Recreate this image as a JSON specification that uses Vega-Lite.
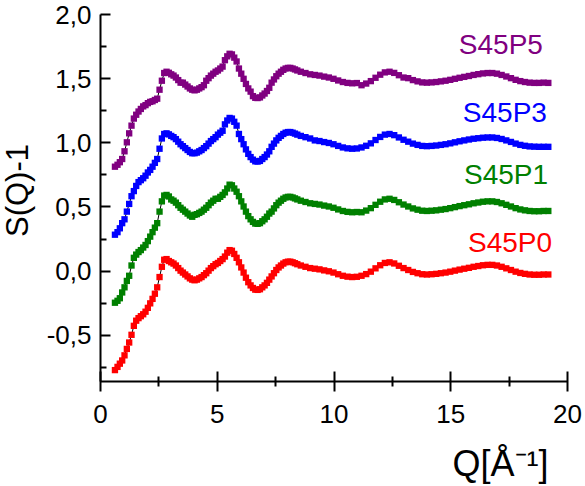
{
  "$schema": "https://vega.github.io/schema/vega-lite/v6.json",
  "width": 467,
  "height": 367,
  "autosize": {"type": "none"},
  "padding": {"left": 100, "top": 14, "right": 18, "bottom": 105},
  "background": "white",
  "config": {
    "view": {"stroke": null},
    "font": "Liberation Sans",
    "axis": {"grid": false, "domainColor": "#000", "tickColor": "#000", "labelColor": "#000", "titleColor": "#000", "titleFontWeight": "normal", "domainWidth": 2, "tickWidth": 2, "labelFont": "Liberation Sans", "titleFont": "Liberation Sans"}
  },
  "datasets": {
    "sq": [
      {"q":0.64,"S45P0":-0.775,"S45P1":-0.25,"S45P3":0.28,"S45P5":0.81},
      {"q":0.75,"S45P0":-0.75,"S45P1":-0.235,"S45P3":0.30,"S45P5":0.825},
      {"q":0.85,"S45P0":-0.725,"S45P1":-0.215,"S45P3":0.33,"S45P5":0.845},
      {"q":0.95,"S45P0":-0.70,"S45P1":-0.17,"S45P3":0.37,"S45P5":0.87},
      {"q":1.05,"S45P0":-0.66,"S45P1":-0.13,"S45P3":0.40,"S45P5":0.93},
      {"q":1.15,"S45P0":-0.61,"S45P1":-0.08,"S45P3":0.46,"S45P5":1.00},
      {"q":1.25,"S45P0":-0.56,"S45P1":-0.04,"S45P3":0.52,"S45P5":1.07},
      {"q":1.35,"S45P0":-0.50,"S45P1":0.04,"S45P3":0.58,"S45P5":1.13},
      {"q":1.45,"S45P0":-0.43,"S45P1":0.10,"S45P3":0.62,"S45P5":1.185},
      {"q":1.55,"S45P0":-0.39,"S45P1":0.125,"S45P3":0.66,"S45P5":1.215},
      {"q":1.65,"S45P0":-0.37,"S45P1":0.145,"S45P3":0.69,"S45P5":1.24},
      {"q":1.75,"S45P0":-0.355,"S45P1":0.16,"S45P3":0.705,"S45P5":1.26},
      {"q":1.85,"S45P0":-0.34,"S45P1":0.18,"S45P3":0.72,"S45P5":1.28},
      {"q":1.95,"S45P0":-0.32,"S45P1":0.20,"S45P3":0.74,"S45P5":1.29},
      {"q":2.05,"S45P0":-0.29,"S45P1":0.23,"S45P3":0.765,"S45P5":1.305},
      {"q":2.15,"S45P0":-0.255,"S45P1":0.265,"S45P3":0.785,"S45P5":1.315},
      {"q":2.25,"S45P0":-0.22,"S45P1":0.30,"S45P3":0.81,"S45P5":1.32},
      {"q":2.35,"S45P0":-0.18,"S45P1":0.335,"S45P3":0.84,"S45P5":1.33},
      {"q":2.45,"S45P0":-0.13,"S45P1":0.37,"S45P3":0.87,"S45P5":1.34},
      {"q":2.55,"S45P0":-0.05,"S45P1":0.46,"S45P3":0.95,"S45P5":1.41},
      {"q":2.65,"S45P0":0.03,"S45P1":0.54,"S45P3":1.03,"S45P5":1.48},
      {"q":2.75,"S45P0":0.085,"S45P1":0.585,"S45P3":1.065,"S45P5":1.54},
      {"q":2.85,"S45P0":0.09,"S45P1":0.59,"S45P3":1.07,"S45P5":1.55},
      {"q":2.95,"S45P0":0.075,"S45P1":0.578,"S45P3":1.062,"S45P5":1.542},
      {"q":3.05,"S45P0":0.065,"S45P1":0.555,"S45P3":1.05,"S45P5":1.53},
      {"q":3.15,"S45P0":0.055,"S45P1":0.545,"S45P3":1.04,"S45P5":1.52},
      {"q":3.25,"S45P0":0.04,"S45P1":0.53,"S45P3":1.025,"S45P5":1.505},
      {"q":3.35,"S45P0":0.02,"S45P1":0.51,"S45P3":1.005,"S45P5":1.485},
      {"q":3.45,"S45P0":0.0,"S45P1":0.49,"S45P3":0.985,"S45P5":1.465},
      {"q":3.55,"S45P0":-0.015,"S45P1":0.475,"S45P3":0.97,"S45P5":1.465},
      {"q":3.65,"S45P0":-0.03,"S45P1":0.46,"S45P3":0.955,"S45P5":1.45},
      {"q":3.75,"S45P0":-0.045,"S45P1":0.445,"S45P3":0.94,"S45P5":1.435},
      {"q":3.85,"S45P0":-0.06,"S45P1":0.43,"S45P3":0.925,"S45P5":1.42},
      {"q":3.95,"S45P0":-0.07,"S45P1":0.42,"S45P3":0.915,"S45P5":1.41},
      {"q":4.05,"S45P0":-0.075,"S45P1":0.435,"S45P3":0.915,"S45P5":1.405},
      {"q":4.15,"S45P0":-0.07,"S45P1":0.44,"S45P3":0.92,"S45P5":1.41},
      {"q":4.25,"S45P0":-0.06,"S45P1":0.45,"S45P3":0.93,"S45P5":1.42},
      {"q":4.35,"S45P0":-0.05,"S45P1":0.46,"S45P3":0.94,"S45P5":1.43},
      {"q":4.45,"S45P0":-0.035,"S45P1":0.475,"S45P3":0.955,"S45P5":1.445},
      {"q":4.55,"S45P0":-0.02,"S45P1":0.49,"S45P3":0.97,"S45P5":1.48},
      {"q":4.65,"S45P0":0.0,"S45P1":0.51,"S45P3":0.99,"S45P5":1.5},
      {"q":4.75,"S45P0":0.02,"S45P1":0.53,"S45P3":1.01,"S45P5":1.52},
      {"q":4.85,"S45P0":0.035,"S45P1":0.545,"S45P3":1.025,"S45P5":1.535},
      {"q":4.95,"S45P0":0.05,"S45P1":0.56,"S45P3":1.04,"S45P5":1.55},
      {"q":5.05,"S45P0":0.06,"S45P1":0.56,"S45P3":1.06,"S45P5":1.56},
      {"q":5.15,"S45P0":0.075,"S45P1":0.575,"S45P3":1.075,"S45P5":1.575},
      {"q":5.25,"S45P0":0.09,"S45P1":0.59,"S45P3":1.09,"S45P5":1.59},
      {"q":5.35,"S45P0":0.11,"S45P1":0.61,"S45P3":1.14,"S45P5":1.64},
      {"q":5.45,"S45P0":0.14,"S45P1":0.64,"S45P3":1.17,"S45P5":1.67},
      {"q":5.55,"S45P0":0.16,"S45P1":0.67,"S45P3":1.19,"S45P5":1.69},
      {"q":5.65,"S45P0":0.155,"S45P1":0.665,"S45P3":1.185,"S45P5":1.685},
      {"q":5.75,"S45P0":0.13,"S45P1":0.64,"S45P3":1.16,"S45P5":1.66},
      {"q":5.85,"S45P0":0.10,"S45P1":0.615,"S45P3":1.13,"S45P5":1.63},
      {"q":5.95,"S45P0":0.065,"S45P1":0.58,"S45P3":1.065,"S45P5":1.575},
      {"q":6.05,"S45P0":0.025,"S45P1":0.54,"S45P3":1.025,"S45P5":1.535},
      {"q":6.15,"S45P0":-0.015,"S45P1":0.5,"S45P3":0.985,"S45P5":1.495},
      {"q":6.25,"S45P0":-0.055,"S45P1":0.46,"S45P3":0.945,"S45P5":1.455},
      {"q":6.35,"S45P0":-0.09,"S45P1":0.425,"S45P3":0.91,"S45P5":1.42},
      {"q":6.45,"S45P0":-0.115,"S45P1":0.4,"S45P3":0.885,"S45P5":1.395},
      {"q":6.55,"S45P0":-0.135,"S45P1":0.38,"S45P3":0.865,"S45P5":1.36},
      {"q":6.65,"S45P0":-0.148,"S45P1":0.367,"S45P3":0.852,"S45P5":1.347},
      {"q":6.75,"S45P0":-0.15,"S45P1":0.365,"S45P3":0.85,"S45P5":1.345},
      {"q":6.85,"S45P0":-0.145,"S45P1":0.37,"S45P3":0.855,"S45P5":1.35},
      {"q":6.95,"S45P0":-0.13,"S45P1":0.385,"S45P3":0.87,"S45P5":1.365},
      {"q":7.05,"S45P0":-0.115,"S45P1":0.4,"S45P3":0.885,"S45P5":1.38},
      {"q":7.15,"S45P0":-0.095,"S45P1":0.42,"S45P3":0.905,"S45P5":1.4},
      {"q":7.25,"S45P0":-0.07,"S45P1":0.445,"S45P3":0.93,"S45P5":1.425},
      {"q":7.35,"S45P0":-0.045,"S45P1":0.46,"S45P3":0.965,"S45P5":1.465},
      {"q":7.45,"S45P0":-0.02,"S45P1":0.485,"S45P3":0.99,"S45P5":1.49},
      {"q":7.55,"S45P0":0.005,"S45P1":0.51,"S45P3":1.015,"S45P5":1.515},
      {"q":7.65,"S45P0":0.025,"S45P1":0.53,"S45P3":1.035,"S45P5":1.535},
      {"q":7.75,"S45P0":0.04,"S45P1":0.545,"S45P3":1.05,"S45P5":1.55},
      {"q":7.85,"S45P0":0.055,"S45P1":0.56,"S45P3":1.065,"S45P5":1.565},
      {"q":7.95,"S45P0":0.065,"S45P1":0.57,"S45P3":1.075,"S45P5":1.575},
      {"q":8.05,"S45P0":0.07,"S45P1":0.575,"S45P3":1.08,"S45P5":1.58},
      {"q":8.15,"S45P0":0.07,"S45P1":0.575,"S45P3":1.08,"S45P5":1.58},
      {"q":8.25,"S45P0":0.065,"S45P1":0.57,"S45P3":1.075,"S45P5":1.575},
      {"q":8.35,"S45P0":0.058,"S45P1":0.563,"S45P3":1.068,"S45P5":1.568},
      {"q":8.45,"S45P0":0.05,"S45P1":0.555,"S45P3":1.06,"S45P5":1.56},
      {"q":8.6,"S45P0":0.04,"S45P1":0.545,"S45P3":1.05,"S45P5":1.55},
      {"q":8.8,"S45P0":0.03,"S45P1":0.535,"S45P3":1.04,"S45P5":1.54},
      {"q":9.0,"S45P0":0.02,"S45P1":0.525,"S45P3":1.03,"S45P5":1.53},
      {"q":9.2,"S45P0":0.015,"S45P1":0.52,"S45P3":1.015,"S45P5":1.525},
      {"q":9.4,"S45P0":0.01,"S45P1":0.515,"S45P3":1.01,"S45P5":1.52},
      {"q":9.6,"S45P0":0.002,"S45P1":0.507,"S45P3":1.002,"S45P5":1.512},
      {"q":9.8,"S45P0":-0.005,"S45P1":0.5,"S45P3":0.995,"S45P5":1.505},
      {"q":10.0,"S45P0":-0.015,"S45P1":0.49,"S45P3":0.985,"S45P5":1.495},
      {"q":10.2,"S45P0":-0.028,"S45P1":0.477,"S45P3":0.972,"S45P5":1.482},
      {"q":10.4,"S45P0":-0.04,"S45P1":0.465,"S45P3":0.96,"S45P5":1.47},
      {"q":10.6,"S45P0":-0.047,"S45P1":0.458,"S45P3":0.953,"S45P5":1.463},
      {"q":10.8,"S45P0":-0.05,"S45P1":0.455,"S45P3":0.95,"S45P5":1.46},
      {"q":11.0,"S45P0":-0.048,"S45P1":0.457,"S45P3":0.952,"S45P5":1.462},
      {"q":11.2,"S45P0":-0.04,"S45P1":0.455,"S45P3":0.96,"S45P5":1.445},
      {"q":11.4,"S45P0":-0.027,"S45P1":0.468,"S45P3":0.973,"S45P5":1.458},
      {"q":11.6,"S45P0":-0.008,"S45P1":0.487,"S45P3":0.992,"S45P5":1.477},
      {"q":11.8,"S45P0":0.018,"S45P1":0.513,"S45P3":1.018,"S45P5":1.503},
      {"q":12.0,"S45P0":0.042,"S45P1":0.537,"S45P3":1.042,"S45P5":1.527},
      {"q":12.2,"S45P0":0.06,"S45P1":0.555,"S45P3":1.06,"S45P5":1.545},
      {"q":12.4,"S45P0":0.065,"S45P1":0.56,"S45P3":1.065,"S45P5":1.55},
      {"q":12.6,"S45P0":0.056,"S45P1":0.551,"S45P3":1.056,"S45P5":1.541},
      {"q":12.8,"S45P0":0.038,"S45P1":0.533,"S45P3":1.038,"S45P5":1.523},
      {"q":13.0,"S45P0":0.02,"S45P1":0.515,"S45P3":1.02,"S45P5":1.505},
      {"q":13.2,"S45P0":0.005,"S45P1":0.5,"S45P3":1.005,"S45P5":1.5},
      {"q":13.4,"S45P0":-0.01,"S45P1":0.485,"S45P3":0.99,"S45P5":1.485},
      {"q":13.6,"S45P0":-0.02,"S45P1":0.475,"S45P3":0.98,"S45P5":1.475},
      {"q":13.8,"S45P0":-0.028,"S45P1":0.467,"S45P3":0.972,"S45P5":1.467},
      {"q":14.0,"S45P0":-0.03,"S45P1":0.465,"S45P3":0.97,"S45P5":1.465},
      {"q":14.2,"S45P0":-0.028,"S45P1":0.467,"S45P3":0.972,"S45P5":1.467},
      {"q":14.4,"S45P0":-0.025,"S45P1":0.47,"S45P3":0.975,"S45P5":1.47},
      {"q":14.6,"S45P0":-0.02,"S45P1":0.475,"S45P3":0.98,"S45P5":1.475},
      {"q":14.8,"S45P0":-0.015,"S45P1":0.48,"S45P3":0.985,"S45P5":1.48},
      {"q":15.0,"S45P0":-0.008,"S45P1":0.487,"S45P3":0.992,"S45P5":1.487},
      {"q":15.2,"S45P0":0.0,"S45P1":0.495,"S45P3":1.0,"S45P5":1.495},
      {"q":15.4,"S45P0":0.008,"S45P1":0.503,"S45P3":1.008,"S45P5":1.503},
      {"q":15.6,"S45P0":0.015,"S45P1":0.51,"S45P3":1.015,"S45P5":1.51},
      {"q":15.8,"S45P0":0.022,"S45P1":0.517,"S45P3":1.022,"S45P5":1.517},
      {"q":16.0,"S45P0":0.03,"S45P1":0.525,"S45P3":1.028,"S45P5":1.525},
      {"q":16.2,"S45P0":0.036,"S45P1":0.531,"S45P3":1.032,"S45P5":1.531},
      {"q":16.4,"S45P0":0.042,"S45P1":0.537,"S45P3":1.036,"S45P5":1.537},
      {"q":16.6,"S45P0":0.045,"S45P1":0.54,"S45P3":1.038,"S45P5":1.54},
      {"q":16.8,"S45P0":0.045,"S45P1":0.54,"S45P3":1.038,"S45P5":1.54},
      {"q":17.0,"S45P0":0.04,"S45P1":0.535,"S45P3":1.034,"S45P5":1.535},
      {"q":17.2,"S45P0":0.03,"S45P1":0.525,"S45P3":1.026,"S45P5":1.525},
      {"q":17.4,"S45P0":0.018,"S45P1":0.513,"S45P3":1.015,"S45P5":1.513},
      {"q":17.6,"S45P0":0.005,"S45P1":0.5,"S45P3":1.003,"S45P5":1.5},
      {"q":17.8,"S45P0":-0.008,"S45P1":0.487,"S45P3":0.99,"S45P5":1.487},
      {"q":18.0,"S45P0":-0.018,"S45P1":0.477,"S45P3":0.98,"S45P5":1.477},
      {"q":18.2,"S45P0":-0.025,"S45P1":0.47,"S45P3":0.973,"S45P5":1.47},
      {"q":18.4,"S45P0":-0.03,"S45P1":0.465,"S45P3":0.968,"S45P5":1.465},
      {"q":18.6,"S45P0":-0.032,"S45P1":0.463,"S45P3":0.966,"S45P5":1.463},
      {"q":18.8,"S45P0":-0.032,"S45P1":0.463,"S45P3":0.965,"S45P5":1.463},
      {"q":19.0,"S45P0":-0.03,"S45P1":0.465,"S45P3":0.965,"S45P5":1.465},
      {"q":19.2,"S45P0":-0.03,"S45P1":0.465,"S45P3":0.965,"S45P5":1.463}
    ],
    "labels": [
      {"key":"S45P5","q":18.97,"y":1.688},
      {"key":"S45P3","q":19.14,"y":1.161},
      {"key":"S45P1","q":19.19,"y":0.675},
      {"key":"S45P0","q":19.36,"y":0.147}
    ]
  },
  "resolve": {"axis": {"x": "independent", "y": "independent"}},
  "layer": [
    {
      "data": {"name": "sq"},
      "transform": [{"fold": ["S45P0","S45P1","S45P3","S45P5"], "as": ["key","val"]}],
      "mark": {"type": "line", "color": "#000", "strokeWidth": 1},
      "encoding": {
        "x": {"field": "q", "type": "quantitative",
          "scale": {"domain": [0,20], "nice": false, "zero": false},
          "axis": {"orient": "bottom", "values": [0,5,10,15,20], "ticks": false, "domain": true,
            "labelFontSize": 26, "labelPadding": 20, "labelFlush": false,
            "title": "Q[Å⁻¹]", "titleFontSize": 36, "titleX": 448, "titleY": 94,
            "titleAlign": "right", "titleBaseline": "alphabetic", "titleAnchor": null}},
        "y": {"field": "val", "type": "quantitative",
          "scale": {"domain": [-0.86,2], "nice": false, "zero": false},
          "axis": {"orient": "left", "values": [-0.5,0,0.5,1,1.5,2], "ticks": false, "domain": true,
            "labelExpr": "replace(replace(format(datum.value,'.1f'),'.',','),'\u2212','-')",
            "labelFontSize": 26, "labelPadding": 9, "labelOffset": 1, "labelFlush": false,
            "title": "S(Q)-1", "titleFontSize": 31, "titleX": -73, "titleY": 176,
            "titleAngle": -90, "titleAlign": "center", "titleBaseline": "alphabetic"}},
        "detail": {"field": "key"}
      }
    },
    {
      "data": {"name": "sq"},
      "transform": [{"fold": ["S45P0","S45P1","S45P3","S45P5"], "as": ["key","val"]}],
      "mark": {"type": "point", "shape": "square", "filled": true, "size": 40, "opacity": 1, "strokeWidth": 0},
      "encoding": {
        "x": {"field": "q", "type": "quantitative",
          "scale": {"domain": [0,20], "nice": false, "zero": false},
          "axis": {"orient": "bottom", "values": [0,5,10,15,20], "domain": false, "labels": false,
            "ticks": true, "tickSize": 20, "offset": -10, "title": null}},
        "y": {"field": "val", "type": "quantitative",
          "scale": {"domain": [-0.86,2], "nice": false, "zero": false},
          "axis": {"orient": "left", "values": [-0.5,0,0.5,1,1.5,2], "domain": false, "labels": false,
            "ticks": true, "tickSize": 10, "offset": -10, "title": null}},
        "color": {"field": "key", "type": "nominal",
          "scale": {"domain": ["S45P0","S45P1","S45P3","S45P5"], "range": ["#FF0000","#008000","#0000FF","#800080"]},
          "legend": null}
      }
    },
    {
      "data": {"name": "labels"},
      "mark": {"type": "text", "align": "right", "baseline": "alphabetic", "fontSize": 28, "font": "Liberation Sans"},
      "encoding": {
        "x": {"field": "q", "type": "quantitative",
          "scale": {"domain": [0,20], "nice": false, "zero": false},
          "axis": {"orient": "bottom", "values": [2.5,7.5,12.5,17.5], "domain": false, "labels": false,
            "ticks": true, "tickSize": 10, "offset": -5, "title": null}},
        "y": {"field": "y", "type": "quantitative",
          "scale": {"domain": [-0.86,2], "nice": false, "zero": false},
          "axis": {"orient": "left", "values": [-0.75,-0.25,0.25,0.75,1.25,1.75], "domain": false, "labels": false,
            "ticks": true, "tickSize": 6, "offset": -6, "title": null}},
        "text": {"field": "key"},
        "color": {"field": "key", "type": "nominal",
          "scale": {"domain": ["S45P0","S45P1","S45P3","S45P5"], "range": ["#FF0000","#008000","#0000FF","#800080"]},
          "legend": null}
      }
    }
  ]
}
